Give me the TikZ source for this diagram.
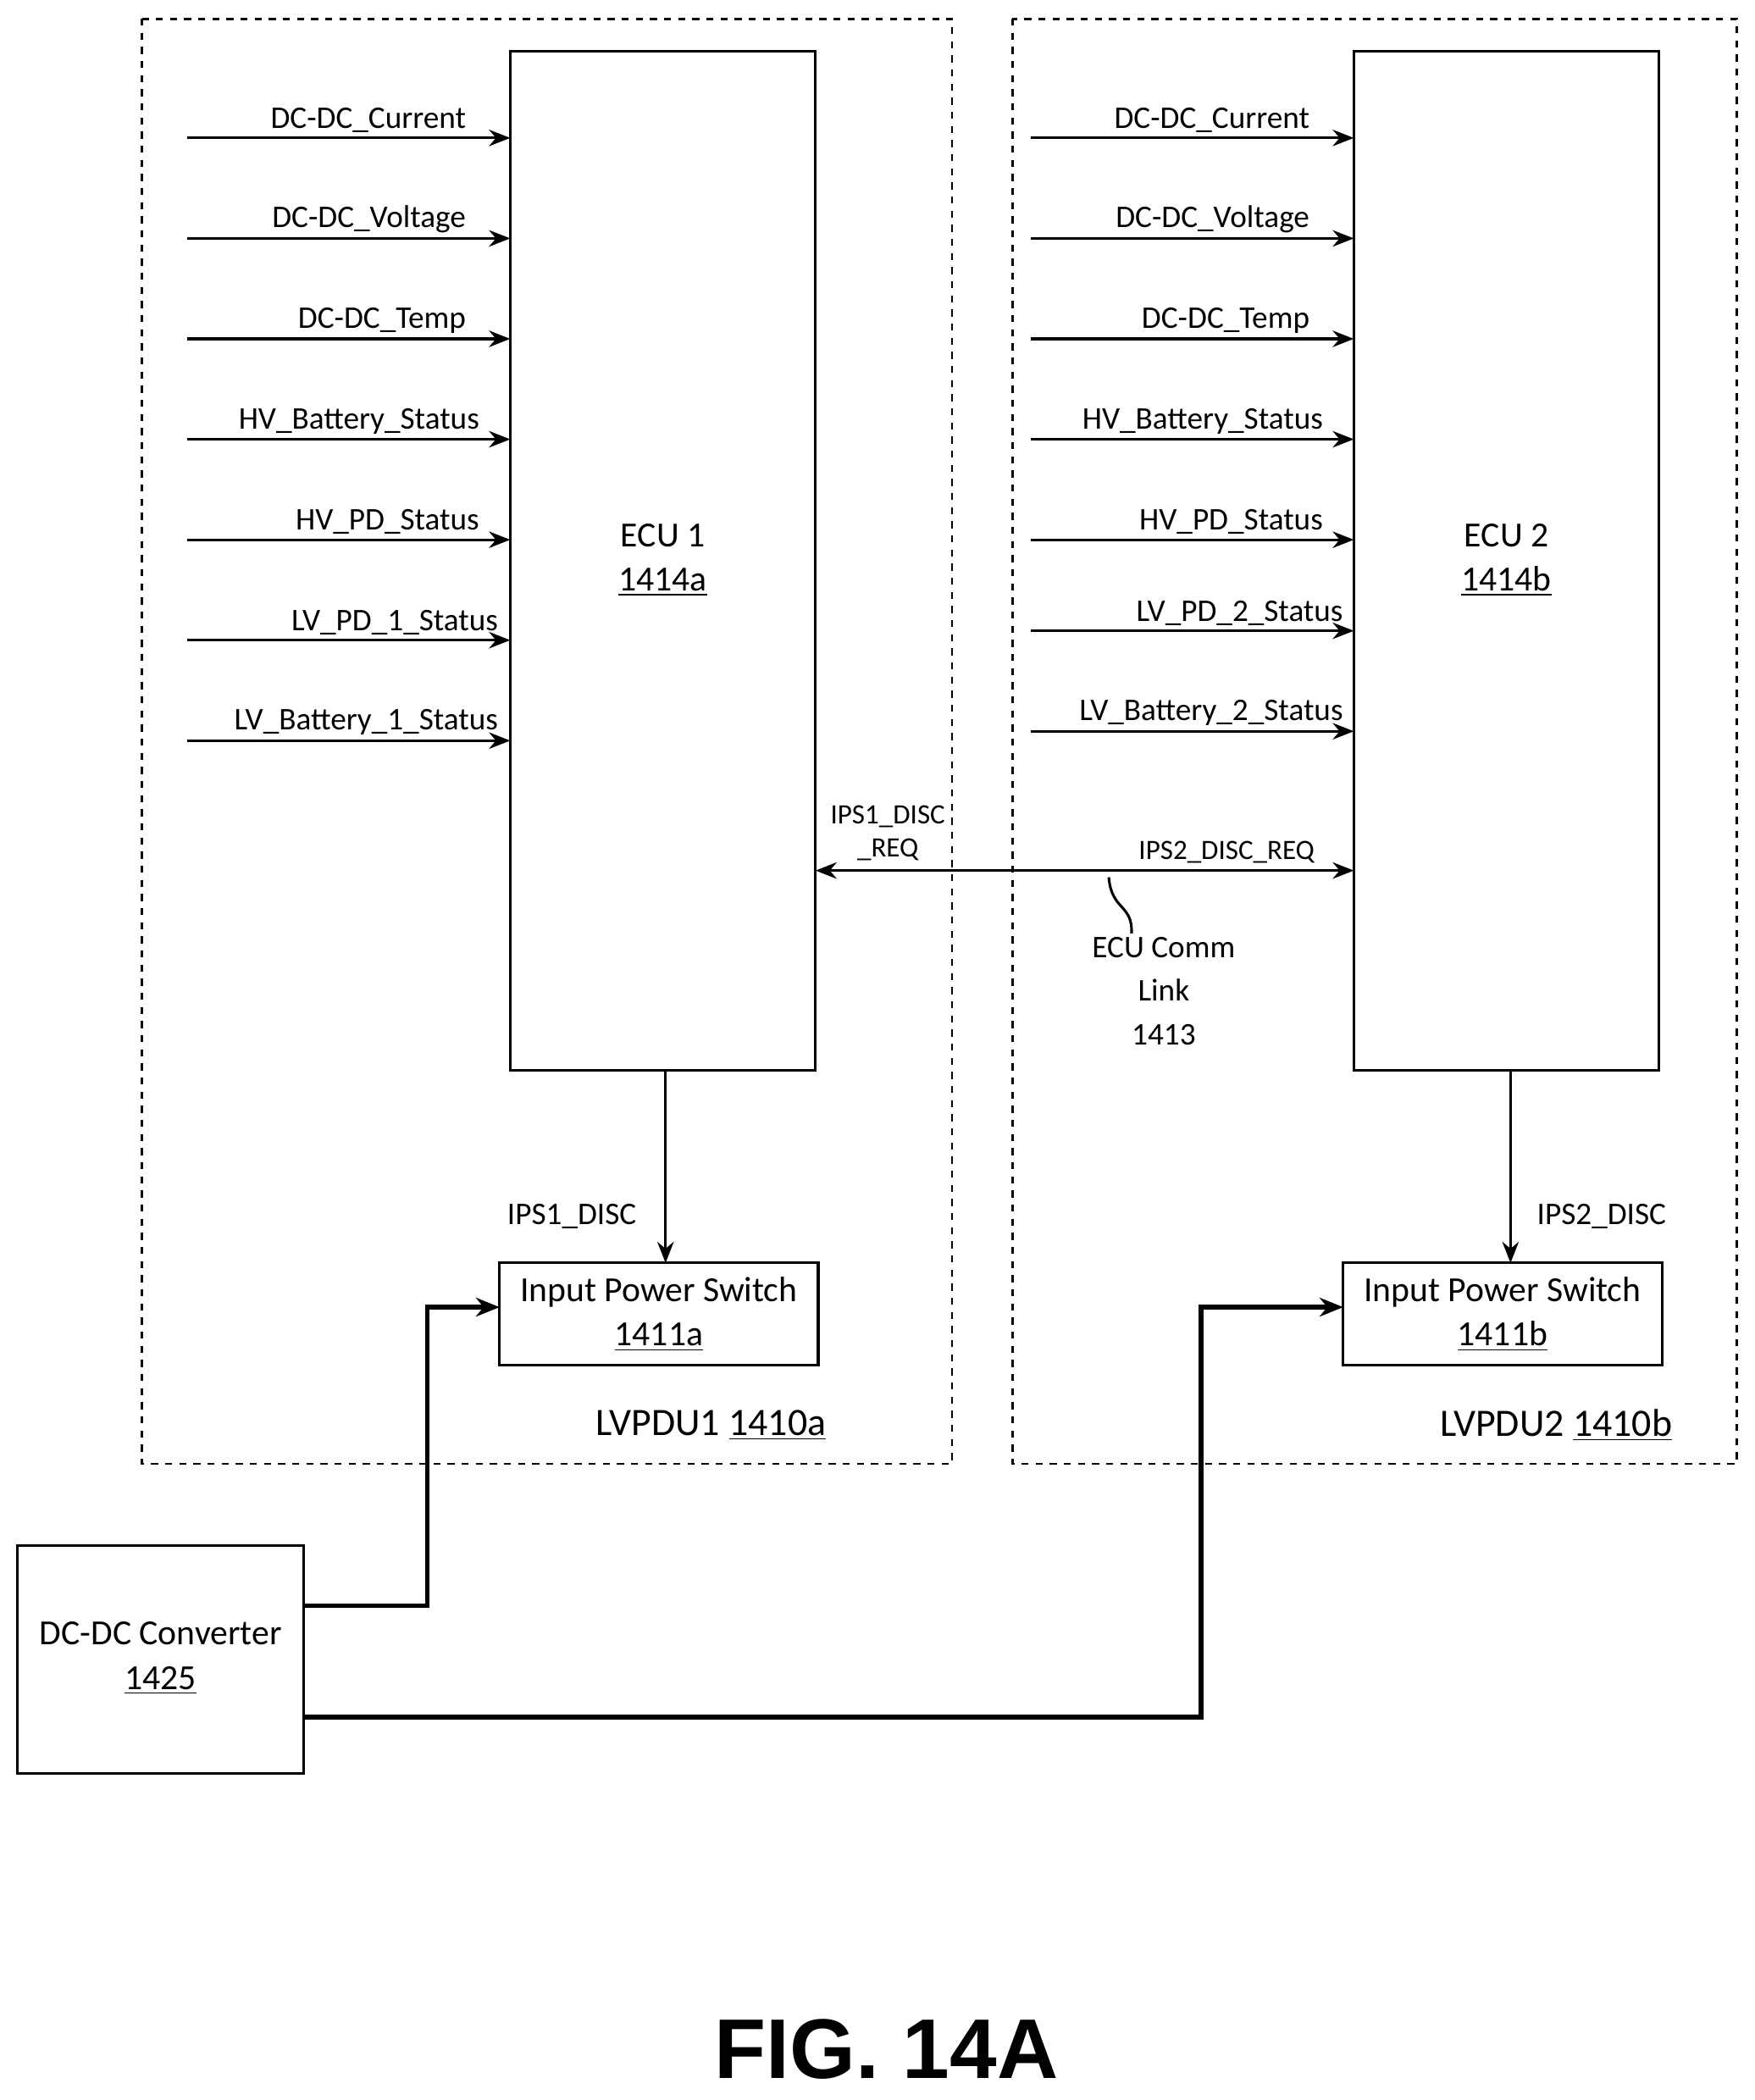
\documentclass[tikz,border=0pt]{standalone}
\usepackage{fontspec}
\setmainfont{Carlito}
\newfontfamily\figfont{Liberation Sans}
\usetikzlibrary{arrows.meta,positioning}
\begin{document}
\begin{tikzpicture}[x=0.02cm,y=-0.02cm,
        font=\fontsize{13.4}{16}\selectfont,
        sig/.style={-{Stealth[length=9pt,width=7pt]},line width=1.1pt},
        pwr/.style={-{Stealth[length=10pt,width=8pt]},line width=2pt},
        blk/.style={draw,line width=1.1pt,align=center},
        unit/.style={draw,line width=1pt,dashed},
        lbl/.style={above left,inner sep=1pt},
        big/.style={font=\fontsize{15}{19}\selectfont,align=center},
        ]
    \useasboundingbox (0,0) rectangle (1310,1568);
    % dashed units
    \draw[unit] (106,14) rectangle (711,1093);
    \draw[unit] (756,14) rectangle (1297,1093);
    % ECUs
    \node (ecu1) [blk,minimum width=228*0.02cm,minimum height=761*0.02cm] at (495,418.5) {};
    \node (ecu2) [blk,minimum width=228*0.02cm,minimum height=761*0.02cm] at (1125,418.5) {};
    \node[big] (ecu1t) at (495,418) {ECU 1\\\underline{1414a}};
    \node[big] (ecu2t) at (1125,418) {ECU 2\\\underline{1414b}};
    % input signals
    \foreach \y/\t/\e in {103/DC-DC\_Current/348,178/DC-DC\_Voltage/348,253/DC-DC\_Temp/348,
        328/HV\_Battery\_Status/358,403/HV\_PD\_Status/358,478/LV\_PD\_1\_Status/372,553/LV\_Battery\_1\_Status/372}{
        \coordinate (a) at (140,\y);
        \draw[sig] (a) -- (381,\y);
        \node[lbl] at (\e+2,\y-2) {\t};
    }
    \foreach \y/\t/\e in {103/DC-DC\_Current/978,178/DC-DC\_Voltage/978,253/DC-DC\_Temp/978,
        328/HV\_Battery\_Status/988,403/HV\_PD\_Status/988,471/LV\_PD\_2\_Status/1003,546/LV\_Battery\_2\_Status/1003}{
        \coordinate (b) at (770,\y);
        \draw[sig] (b) -- (1011,\y);
        \node[lbl] at (\e+2,\y-2) {\t};
    }
    % comm link
    \coordinate (l1) at (609,650);
    \coordinate (l2) at (1011,650);
    \draw[sig,{Stealth[length=9pt,width=7pt]}-{Stealth[length=9pt,width=7pt]}] (l1) -- (l2);
    \node[align=center,font=\fontsize{11.9}{14}\selectfont] at (663,622) {IPS1\_DISC\\\_REQ};
    \node[font=\fontsize{11.9}{14}\selectfont] at (916,636) {IPS2\_DISC\_REQ};
    \coordinate (s1) at (828,655);
    \draw[line width=1.1pt] (s1) .. controls (830,680) and (846,675) .. (845,697);
    \node[align=center,font=\fontsize{13.4}{18.5}\selectfont] (link) at (869,740) {ECU Comm\\Link\\1413};
    % switches
    \node (ips1) [blk,minimum width=238*0.02cm,minimum height=76*0.02cm] at (492,981) {};
    \node[big] at (492,981) {Input Power Switch\\\underline{1411a}};
    \node (ips2) [blk,minimum width=238*0.02cm,minimum height=76*0.02cm] at (1122,981) {};
    \node[big] at (1122,981) {Input Power Switch\\\underline{1411b}};
    \draw[sig] (497,799) -- (497,943);
    \node at (427,908) {IPS1\_DISC};
    \draw[sig] (1128,799) -- (1128,943);
    \node at (1196,908) {IPS2\_DISC};
    \node at (531,1064) {\fontsize{16.5}{19}\selectfont LVPDU1 \underline{1410a}};
    \node at (1162,1064) {\fontsize{16.5}{19}\selectfont LVPDU2 \underline{1410b}};
    % converter
    \node (dcdc) [blk,minimum width=214*0.02cm,minimum height=170*0.02cm] at (120,1239) {};
    \node[big] at (120,1238) {DC-DC Converter\\\underline{1425}};
    \draw[pwr] (227,1199) -- (319,1199) -- (319,976) -- (373,976);
    \draw[pwr] (227,1282) -- (897,1282) -- (897,976) -- (1003,976);
    \node[font=\figfont\bfseries\fontsize{36}{40}\selectfont] at (662,1530) {FIG. 14A};
\end{tikzpicture}
\end{document}
